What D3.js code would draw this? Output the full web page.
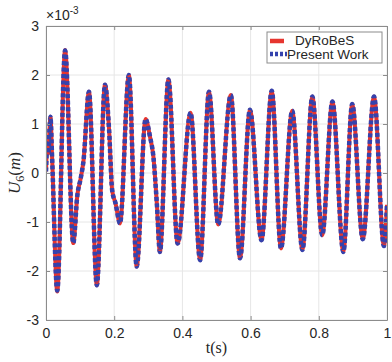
<!DOCTYPE html>
<html>
<head>
<meta charset="utf-8">
<script src="https://cdn.jsdelivr.net/npm/d3@7"></script>
<style>
body{margin:0;background:#fff}
text{fill:#262626}
</style>
</head>
<body>
<div id="chart"></div>
<script>
// time (s) and displacement (x1e-3 m)
var time = [0,0.004,0.007,0.010,0.013,0.018,0.033,0.056,0.080,0.092,0.102,0.110,0.126,0.149,0.173,0.185,0.194,0.204,0.217,
    0.243,0.266,0.292,0.305,0.315,0.325,0.334,0.359,0.386,0.424,0.452,0.478,0.505,0.542,0.569,0.598,0.632,0.662,0.689,
    0.722,0.752,0.781,0.810,0.840,0.872,0.898,0.929,0.962,0.991,1.0]
var dyrobes = [0.03,0.60,0.40,0.85,1.15,0.30,-2.42,2.51,-1.43,-0.45,-0.10,0.25,1.66,-2.29,1.80,0.88,-0.35,-0.62,-1.03,
    2.00,-1.91,1.10,0.74,0.33,-0.62,-1.61,1.91,-1.44,1.23,-1.78,1.66,-1.05,1.59,-1.74,1.29,-1.37,1.68,-1.54,
    1.27,-1.57,1.56,-1.27,1.46,-1.61,1.41,-1.35,1.56,-1.49,-0.65]
var presentWork = [0.03,0.60,0.40,0.85,1.15,0.30,-2.40,2.50,-1.43,-0.45,-0.10,0.25,1.66,-2.29,1.80,0.88,-0.35,-0.62,-1.03,
    2.00,-1.91,1.10,0.74,0.33,-0.62,-1.61,1.91,-1.44,1.23,-1.78,1.66,-1.05,1.59,-1.74,1.29,-1.37,1.68,-1.54,
    1.27,-1.57,1.56,-1.27,1.46,-1.61,1.41,-1.35,1.56,-1.49,-0.65]
var xTicks = [0,0.2,0.4,0.6,0.8,1]
var yTicks = [-3,-2,-1,0,1,2,3]
var seriesNames = ["DyRoBeS","Present Work"]

var w = 392, h = 362
var padL = 46, padR = 387, padT = 26, padB = 320
var redColor = "#e6352f", blueColor = "#3442ad"
var sansFont = "'Liberation Sans',Arial,sans-serif"
var serifFont = "'Liberation Serif','DejaVu Serif',serif"

var svg = d3.select("#chart").append("svg").attr("width",w).attr("height",h)

var x = d3.scaleLinear().domain([0,1]).range([padL,padR])
var y = d3.scaleLinear().domain([-3,3]).range([padB,padT])

//grid
svg.selectAll(".gx").data(xTicks).enter().append("line")
    .attr("x1",function(d){return x(d)}).attr("x2",function(d){return x(d)})
    .attr("y1",padT).attr("y2",padB).attr("stroke","#e6e6e6")
svg.selectAll(".gy").data(yTicks).enter().append("line")
    .attr("y1",function(d){return y(d)}).attr("y2",function(d){return y(d)})
    .attr("x1",padL).attr("x2",padR).attr("stroke","#e6e6e6")

svg.append("clipPath").attr("id","clip").append("rect")
    .attr("x",padL).attr("y",padT).attr("width",padR-padL).attr("height",padB-padT)

var line = d3.line().x(function(d){return x(d[0])}).y(function(d){return y(d[1])}).curve(d3.curveMonotoneX)
var redData = time.map(function(t,i){return [t,dyrobes[i]]})
var blueData = time.map(function(t,i){return [t,presentWork[i]]})

var plot = svg.append("g").attr("clip-path","url(#clip)")
plot.append("path").attr("d",line(redData)).attr("fill","none")
    .attr("stroke",redColor).attr("stroke-width",4)
plot.append("path").attr("d",line(blueData)).attr("fill","none")
    .attr("stroke",blueColor).attr("stroke-width",4.5).attr("stroke-dasharray","4,2.5")

//axes
var axisColor = "#8c8c8c"
svg.append("g").attr("transform","translate(0,"+padB+")")
    .call(d3.axisBottom(x).tickValues(xTicks).tickSizeInner(-4).tickSizeOuter(0).tickPadding(8).tickFormat(d3.format("")))
svg.append("g").attr("transform","translate(0,"+padT+")")
    .call(d3.axisTop(x).tickValues(xTicks).tickSizeInner(-4).tickSizeOuter(0).tickFormat(""))
var yl = svg.append("g").attr("transform","translate("+padL+",0)")
    .call(d3.axisLeft(y).tickValues(yTicks).tickSizeInner(-4).tickSizeOuter(0).tickPadding(7).tickFormat(d3.format("")))
svg.append("g").attr("transform","translate("+padR+",0)")
    .call(d3.axisRight(y).tickValues(yTicks).tickSizeInner(-4).tickSizeOuter(0).tickFormat(""))
svg.selectAll(".domain").attr("stroke",axisColor)
svg.selectAll(".tick line").attr("stroke",axisColor)
svg.selectAll(".tick text").attr("font-size",14).attr("font-family",sansFont).attr("fill","#262626")
yl.selectAll(".tick text").text(function(d){return d<0 ? "-"+Math.abs(d) : d})

//exponent
var ex = svg.append("text").attr("x",46).attr("y",20).attr("font-size",14).attr("font-family",sansFont)
ex.append("tspan").text("×10")
ex.append("tspan").attr("dy",-6).attr("font-size",10).text("-3")

//axis labels
svg.append("text").attr("x",(padL+padR)/2).attr("y",353).attr("text-anchor","middle")
    .attr("font-family",serifFont).attr("font-size",16).text("t(s)")
var yLab = svg.append("text").attr("transform","translate(20,"+y(0)+") rotate(-90)").attr("text-anchor","middle")
    .attr("font-family",serifFont).attr("font-size",17)
yLab.append("tspan").attr("font-style","italic").text("U")
yLab.append("tspan").attr("dy",4).attr("font-size",12).text("6")
yLab.append("tspan").attr("dy",-4).text("(")
yLab.append("tspan").attr("font-style","italic").text("m")
yLab.append("tspan").text(")")

//legend
var lg = svg.append("g")
lg.append("rect").attr("x",267).attr("y",32).attr("width",115).attr("height",31)
    .attr("fill","#fff").attr("stroke","#8c8c8c")
lg.append("line").attr("x1",270).attr("x2",284).attr("y1",41).attr("y2",41)
    .attr("stroke",redColor).attr("stroke-width",4.5)
lg.append("line").attr("x1",270).attr("x2",287).attr("y1",54).attr("y2",54)
    .attr("stroke",blueColor).attr("stroke-width",4.5).attr("stroke-dasharray","3,2")
lg.append("text").attr("x",295).attr("y",45).attr("font-size",13.5).attr("font-family",sansFont).text(seriesNames[0])
lg.append("text").attr("x",287).attr("y",58.5).attr("font-size",13.5).attr("font-family",sansFont).text(seriesNames[1])
</script>
</body>
</html>
